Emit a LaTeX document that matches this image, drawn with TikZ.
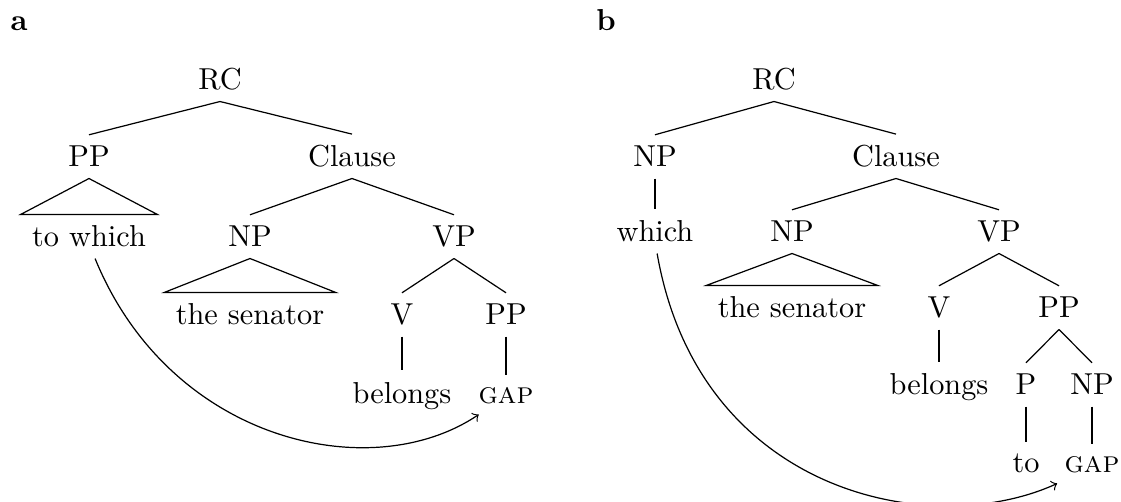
\documentclass[tikz,border=0pt]{standalone}
\begin{document}
\begin{tikzpicture}[x=0.33pt,y=-0.33pt,
  lab/.style={anchor=base,inner sep=3.6pt,text depth=0pt},
  panel/.style={anchor=base,inner sep=0pt,font=\bfseries},
  gaparrow/.style={->}]
\useasboundingbox (0,0) rectangle (1121,502);
% panel labels
\node[panel] (la) at (19,31) {a};
\node[panel] (lb) at (606,31) {b};
% ---------- tree a ----------
\node[lab] (rca) at (220,90) {RC};
\node[lab] (ppa) at (89,167) {PP};
\node[lab] (cla) at (352,167) {Clause};
\node[lab] (twa) at (89,247) {to which};
\node[lab] (npa) at (250,247) {NP};
\node[lab] (vpa) at (454,247) {VP};
\node[lab] (sena) at (250,325) {the senator};
\node[lab] (va) at (402,325) {V};
\node[lab] (ppba) at (506,325) {PP};
\node[lab] (bela) at (402,403) {belongs};
\node[lab] (gapa) at (506,403) {\textsc{gap}};
\draw (rca.south) -- (ppa.north);
\draw (rca.south) -- (cla.north);
\draw (ppa.south) -- (twa.north west) -- (twa.north east) -- cycle;
\draw (cla.south) -- (npa.north);
\draw (cla.south) -- (vpa.north);
\draw (npa.south) -- (sena.north west) -- (sena.north east) -- cycle;
\draw (vpa.south) -- (va.north);
\draw (vpa.south) -- (ppba.north);
\draw (va.south) -- (bela.north);
\draw (ppba.south) -- (gapa.north);
\draw[gaparrow] ([xshift=2pt]twa.south) .. controls (170,442) and (371,487) .. ([xshift=-9pt]gapa.south);
% ---------- tree b ----------
\node[lab] (rcb) at (774,90) {RC};
\node[lab] (npb) at (655,167) {NP};
\node[lab] (clb) at (896,167) {Clause};
\node[lab] (whb) at (655,242) {which};
\node[lab] (np2b) at (792,242) {NP};
\node[lab] (vpb) at (999,242) {VP};
\node[lab] (senb) at (792,318) {the senator};
\node[lab] (vb) at (939,318) {V};
\node[lab] (ppb) at (1059,318) {PP};
\node[lab] (belb) at (939,395) {belongs};
\node[lab] (pb) at (1026,395) {P};
\node[lab] (np3b) at (1092,395) {NP};
\node[lab] (tob) at (1026,472) {to};
\node[lab] (gapb) at (1092,472) {\textsc{gap}};
\draw (rcb.south) -- (npb.north);
\draw (rcb.south) -- (clb.north);
\draw (npb.south) -- (whb.north);
\draw (clb.south) -- (np2b.north);
\draw (clb.south) -- (vpb.north);
\draw (np2b.south) -- (senb.north west) -- (senb.north east) -- cycle;
\draw (vpb.south) -- (vb.north);
\draw (vpb.south) -- (ppb.north);
\draw (vb.south) -- (belb.north);
\draw (ppb.south) -- (pb.north);
\draw (ppb.south) -- (np3b.north);
\draw (pb.south) -- (tob.north);
\draw (np3b.south) -- (gapb.north);
\draw[gaparrow] ([xshift=0.7pt]whb.south) .. controls (699,494) and (931,541) .. ([xshift=-11.5pt]gapb.south);
\end{tikzpicture}
\end{document}
